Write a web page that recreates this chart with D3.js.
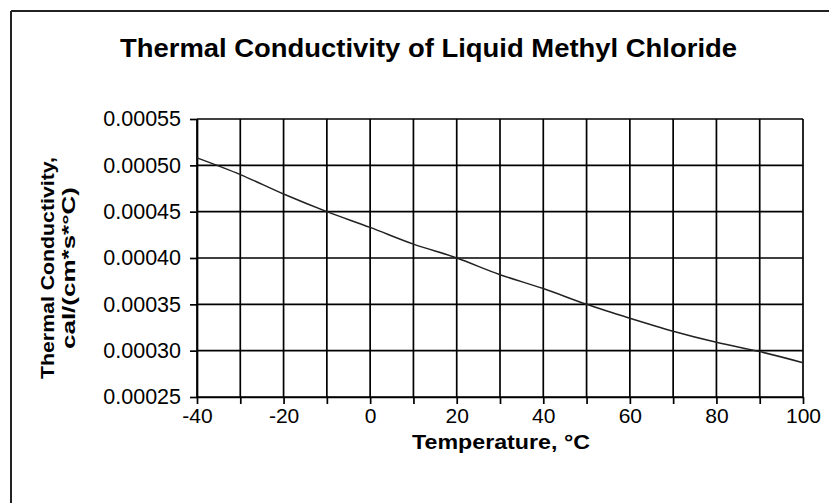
<!DOCTYPE html>
<html>
<head>
<meta charset="utf-8">
<script src="https://cdn.jsdelivr.net/npm/d3@7"></script>
<style>
  html, body { margin: 0; padding: 0; background: #fff; }
  svg { display: block; }
  text { font-family: "Liberation Sans", Arial, sans-serif; fill: #000; }
</style>
</head>
<body>
<svg id="chart" width="829" height="503"></svg>
<script>
// ---- Data ----
const temperatures = [-40, -30, -20, -10, 0, 10, 20, 30, 40, 50, 60, 70, 80, 90, 100];
const conductivity = [0.000508, 0.000490, 0.000469, 0.000450, 0.000433, 0.000415, 0.000400,
                      0.000382, 0.000367, 0.000350, 0.000335, 0.000321, 0.000309, 0.000299, 0.000287];
const xTickLabels = [-40, -20, 0, 20, 40, 60, 80, 100];
const xGridValues = [-40, -30, -20, -10, 0, 10, 20, 30, 40, 50, 60, 70, 80, 90, 100];
const yTickValues = [0.00025, 0.00030, 0.00035, 0.00040, 0.00045, 0.00050, 0.00055];
const titleText = "Thermal Conductivity of Liquid Methyl Chloride";
const xTitle = "Temperature, \u00B0C";
const yTitleLines = ["Thermal Conductivity,", "cal/(cm*s*\u00B0C)"];

// ---- Layout ----
const W = 829, H = 503;
const plot = { left: 197, right: 803, top: 119, bottom: 397 };
const svg = d3.select("#chart");

// frame
svg.append("line").attr("x1", 11).attr("x2", W).attr("y1", 11).attr("y2", 11)
  .attr("stroke", "#222").attr("stroke-width", 2);
svg.append("line").attr("x1", 11).attr("x2", 11).attr("y1", 11).attr("y2", H)
  .attr("stroke", "#222").attr("stroke-width", 2);

const x = d3.scaleLinear().domain([-40, 100]).range([plot.left, plot.right]);
const y = d3.scaleLinear().domain([0.00025, 0.00055]).range([plot.bottom, plot.top]);

// grid
const g = svg.append("g");
g.selectAll(".vgrid").data(xGridValues).join("line")
  .attr("x1", d => x(d)).attr("x2", d => x(d))
  .attr("y1", plot.top).attr("y2", plot.bottom)
  .attr("stroke", "#000").attr("stroke-width", 1.7);
g.selectAll(".hgrid").data(yTickValues).join("line")
  .attr("x1", plot.left).attr("x2", plot.right)
  .attr("y1", d => y(d)).attr("y2", d => y(d))
  .attr("stroke", "#000").attr("stroke-width", 1.7);

// axes
const xAxis = d3.axisBottom(x).tickValues(xGridValues).tickSizeInner(7).tickSizeOuter(0)
  .tickPadding(1)
  .tickFormat(d => xTickLabels.includes(d) ? d : "");
const gx = svg.append("g").attr("transform", `translate(0,${plot.bottom})`).call(xAxis);
gx.select(".domain").attr("stroke", "#000").attr("stroke-width", 1.7);
gx.selectAll(".tick line").attr("stroke", "#000").attr("stroke-width", 1.7);
gx.selectAll(".tick text").attr("font-size", 21).attr("dy", "0.85em")
  .style("font-family", "Liberation Sans, Arial, sans-serif").attr("fill", "#000");

const yAxis = d3.axisLeft(y).tickValues(yTickValues).tickSizeInner(7).tickSizeOuter(0)
  .tickFormat(d3.format(".5f")).tickPadding(9);
const gy = svg.append("g").attr("transform", `translate(${plot.left},0)`).call(yAxis);
gy.select(".domain").attr("stroke", "#000").attr("stroke-width", 1.7);
gy.selectAll(".tick line").attr("stroke", "#000").attr("stroke-width", 1.7);
gy.selectAll(".tick text").attr("font-size", 21.5)
  .style("font-family", "Liberation Sans, Arial, sans-serif").attr("fill", "#000");

// curve
const line = d3.line()
  .x((d, i) => x(temperatures[i]))
  .y(d => y(d))
  .curve(d3.curveMonotoneX);
svg.append("path").datum(conductivity)
  .attr("d", line).attr("fill", "none")
  .attr("stroke", "#222").attr("stroke-width", 1.5);

// titles
svg.append("text").attr("x", 428.5).attr("y", 57).attr("text-anchor", "middle")
  .attr("font-size", 26).attr("font-weight", "bold")
  .attr("textLength", 617).attr("lengthAdjust", "spacingAndGlyphs").text(titleText);
svg.append("text").attr("x", 501).attr("y", 449).attr("text-anchor", "middle")
  .attr("font-size", 20).attr("font-weight", "bold")
  .attr("textLength", 178).attr("lengthAdjust", "spacingAndGlyphs").text(xTitle);

const yLineX = [54, 75];
const yLens = [222, 162];
yTitleLines.forEach((t, i) => {
  svg.append("text")
    .attr("transform", `translate(${yLineX[i]},268) rotate(-90)`)
    .attr("text-anchor", "middle").attr("font-size", 18).attr("font-weight", "bold")
    .attr("textLength", yLens[i]).attr("lengthAdjust", "spacingAndGlyphs")
    .text(t);
});
</script>
</body>
</html>
